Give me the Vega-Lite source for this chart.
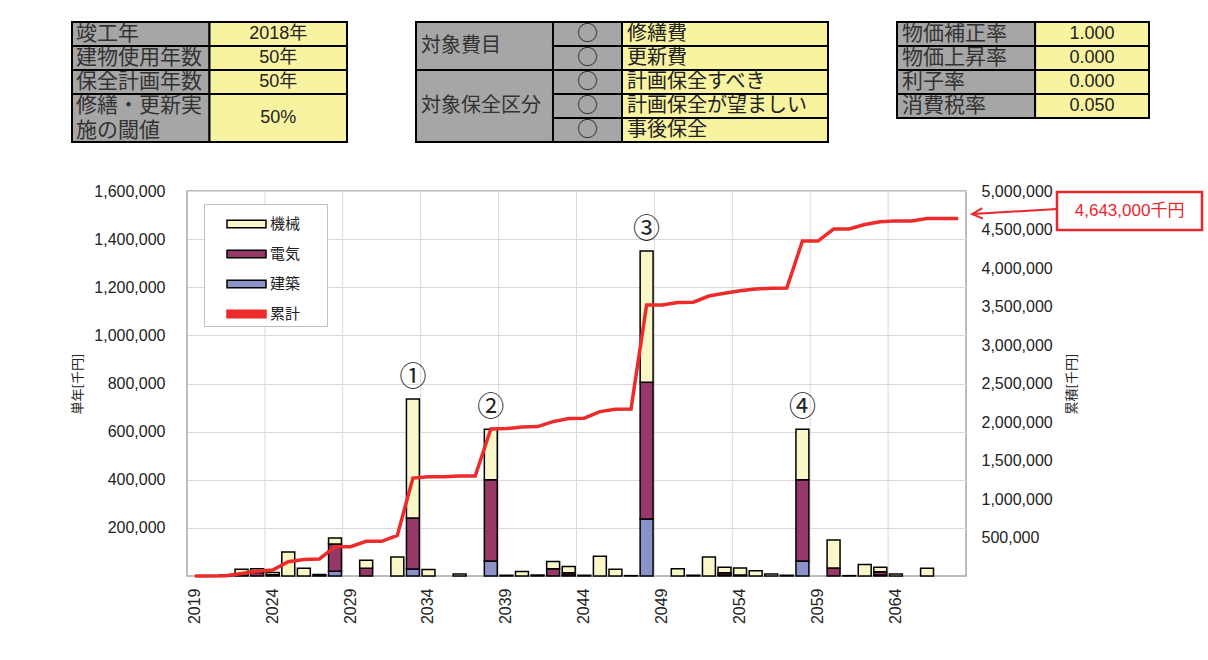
{
  "$schema": "https://vega.github.io/schema/vega-lite/v6.json",
  "padding": {"left": 71, "top": 21, "right": 0, "bottom": 0},
  "config": {"view": {"stroke": null}, "font": "Liberation Sans"},
  "resolve": {"scale": {"color": "independent", "fill": "independent", "stroke": "independent"}, "legend": {"color": "independent", "fill": "independent", "stroke": "independent"}},
  "datasets": {
    "部位別": [
      {"年": 2021, "区分": "機械", "金額": 4000},
      {"年": 2022, "区分": "電気", "金額": 3000},
      {"年": 2022, "区分": "機械", "金額": 25000},
      {"年": 2023, "区分": "電気", "金額": 15000},
      {"年": 2023, "区分": "機械", "金額": 15000},
      {"年": 2024, "区分": "電気", "金額": 5000},
      {"年": 2024, "区分": "機械", "金額": 10000},
      {"年": 2025, "区分": "機械", "金額": 100000},
      {"年": 2026, "区分": "機械", "金額": 32000},
      {"年": 2027, "区分": "機械", "金額": 6000},
      {"年": 2028, "区分": "建築", "金額": 20000},
      {"年": 2028, "区分": "電気", "金額": 113000},
      {"年": 2028, "区分": "機械", "金額": 25000},
      {"年": 2030, "区分": "電気", "金額": 32000},
      {"年": 2030, "区分": "機械", "金額": 33000},
      {"年": 2032, "区分": "機械", "金額": 79000},
      {"年": 2033, "区分": "建築", "金額": 29000},
      {"年": 2033, "区分": "電気", "金額": 212000},
      {"年": 2033, "区分": "機械", "金額": 495000},
      {"年": 2034, "区分": "機械", "金額": 27000},
      {"年": 2036, "区分": "機械", "金額": 8000},
      {"年": 2038, "区分": "建築", "金額": 62000},
      {"年": 2038, "区分": "電気", "金額": 338000},
      {"年": 2038, "区分": "機械", "金額": 210000},
      {"年": 2039, "区分": "機械", "金額": 3000},
      {"年": 2040, "区分": "機械", "金額": 19000},
      {"年": 2041, "区分": "機械", "金額": 4000},
      {"年": 2042, "区分": "電気", "金額": 30000},
      {"年": 2042, "区分": "機械", "金額": 30000},
      {"年": 2043, "区分": "建築", "金額": 4000},
      {"年": 2043, "区分": "電気", "金額": 10000},
      {"年": 2043, "区分": "機械", "金額": 26000},
      {"年": 2044, "区分": "機械", "金額": 3000},
      {"年": 2045, "区分": "機械", "金額": 82000},
      {"年": 2046, "区分": "機械", "金額": 28000},
      {"年": 2047, "区分": "機械", "金額": 1500},
      {"年": 2048, "区分": "建築", "金額": 237000},
      {"年": 2048, "区分": "電気", "金額": 568000},
      {"年": 2048, "区分": "機械", "金額": 546000},
      {"年": 2050, "区分": "機械", "金額": 30000},
      {"年": 2051, "区分": "機械", "金額": 3000},
      {"年": 2052, "区分": "機械", "金額": 79000},
      {"年": 2053, "区分": "建築", "金額": 4000},
      {"年": 2053, "区分": "電気", "金額": 9000},
      {"年": 2053, "区分": "機械", "金額": 23000},
      {"年": 2054, "区分": "電気", "金額": 4000},
      {"年": 2054, "区分": "機械", "金額": 29000},
      {"年": 2055, "区分": "機械", "金額": 22000},
      {"年": 2056, "区分": "機械", "金額": 8000},
      {"年": 2057, "区分": "機械", "金額": 3000},
      {"年": 2058, "区分": "建築", "金額": 62000},
      {"年": 2058, "区分": "電気", "金額": 338000},
      {"年": 2058, "区分": "機械", "金額": 210000},
      {"年": 2060, "区分": "電気", "金額": 33000},
      {"年": 2060, "区分": "機械", "金額": 117000},
      {"年": 2061, "区分": "機械", "金額": 1500},
      {"年": 2062, "区分": "機械", "金額": 48000},
      {"年": 2063, "区分": "建築", "金額": 4000},
      {"年": 2063, "区分": "電気", "金額": 14000},
      {"年": 2063, "区分": "機械", "金額": 18000},
      {"年": 2064, "区分": "機械", "金額": 8000},
      {"年": 2066, "区分": "機械", "金額": 32000}
    ],
    "累計": [
      {"年": 2019, "累計": 0}, {"年": 2020, "累計": 0}, {"年": 2021, "累計": 4000},
      {"年": 2022, "累計": 32000}, {"年": 2023, "累計": 62000}, {"年": 2024, "累計": 78000},
      {"年": 2025, "累計": 186000}, {"年": 2026, "累計": 213000}, {"年": 2027, "累計": 221000},
      {"年": 2028, "累計": 380000}, {"年": 2029, "累計": 380000}, {"年": 2030, "累計": 450000},
      {"年": 2031, "累計": 450000}, {"年": 2032, "累計": 528000}, {"年": 2033, "累計": 1272000},
      {"年": 2034, "累計": 1290000}, {"年": 2035, "累計": 1290000}, {"年": 2036, "累計": 1298000},
      {"年": 2037, "累計": 1298000}, {"年": 2038, "累計": 1910000}, {"年": 2039, "累計": 1915000},
      {"年": 2040, "累計": 1935000}, {"年": 2041, "累計": 1940000}, {"年": 2042, "累計": 2005000},
      {"年": 2043, "累計": 2045000}, {"年": 2044, "累計": 2050000}, {"年": 2045, "累計": 2135000},
      {"年": 2046, "累計": 2165000}, {"年": 2047, "累計": 2168000}, {"年": 2048, "累計": 3520000},
      {"年": 2049, "累計": 3520000}, {"年": 2050, "累計": 3552000}, {"年": 2051, "累計": 3556000},
      {"年": 2052, "累計": 3636000}, {"年": 2053, "累計": 3672000}, {"年": 2054, "累計": 3705000},
      {"年": 2055, "累計": 3728000}, {"年": 2056, "累計": 3736000}, {"年": 2057, "累計": 3740000},
      {"年": 2058, "累計": 4350000}, {"年": 2059, "累計": 4350000}, {"年": 2060, "累計": 4505000},
      {"年": 2061, "累計": 4507000}, {"年": 2062, "累計": 4565000}, {"年": 2063, "累計": 4600000},
      {"年": 2064, "累計": 4612000}, {"年": 2065, "累計": 4612000}, {"年": 2066, "累計": 4643000},
      {"年": 2067, "累計": 4643000}, {"年": 2068, "累計": 4643000}
    ],
    "番号": [
      {"年": 2033, "合計": 736000, "番号": "①"},
      {"年": 2038, "合計": 610000, "番号": "②"},
      {"年": 2048, "合計": 1351000, "番号": "③"},
      {"年": 2058, "合計": 610000, "番号": "④"}
    ]
  },
  "vconcat": [
    {
      "hconcat": [
        {
          "width": 160, "height": 120,
          "data": {"values": [
            {"c0": 0, "c1": 0.5, "r0": 0, "r1": 1, "種別": "項目", "文字": "竣工年"},
            {"c0": 0.5, "c1": 1, "r0": 0, "r1": 1, "種別": "値", "文字": "2018年"},
            {"c0": 0, "c1": 0.5, "r0": 1, "r1": 2, "種別": "項目", "文字": "建物使用年数"},
            {"c0": 0.5, "c1": 1, "r0": 1, "r1": 2, "種別": "値", "文字": "50年"},
            {"c0": 0, "c1": 0.5, "r0": 2, "r1": 3, "種別": "項目", "文字": "保全計画年数"},
            {"c0": 0.5, "c1": 1, "r0": 2, "r1": 3, "種別": "値", "文字": "50年"},
            {"c0": 0, "c1": 0.5, "r0": 3, "r1": 5, "種別": "項目", "文字": "修繕・更新実\n施の閾値"},
            {"c0": 0.5, "c1": 1, "r0": 3, "r1": 5, "種別": "値", "文字": "50%"}
          ]},
          "layer": [
            {
              "mark": {"type": "rect", "stroke": "#000000", "strokeWidth": 2},
              "encoding": {
                "x": {"field": "c0", "type": "quantitative", "scale": {"domain": [0.41818, 1], "nice": false, "zero": false}, "axis": null},
                "x2": {"field": "c1"},
                "y": {"field": "r0", "type": "quantitative", "scale": {"domain": [0, 5], "reverse": true, "nice": false}, "axis": null},
                "y2": {"field": "r1"},
                "fill": {"field": "種別", "type": "nominal", "scale": {"domain": ["項目", "値"], "range": ["#A6A6A6", "#F7F3A0"]}, "legend": null}
              }
            },
            {
              "transform": [{"filter": "datum['種別'] === '項目' && datum.r1 - datum.r0 === 1"}],
              "mark": {"type": "text", "align": "left", "baseline": "middle", "dx": 4, "dy": 12, "font": "Noto Sans CJK JP", "fontSize": 21, "color": "#333333"},
              "encoding": {
                "x": {"field": "c0", "type": "quantitative", "axis": null},
                "y": {"field": "r0", "type": "quantitative", "axis": null},
                "text": {"field": "文字"}
              }
            },
            {
              "transform": [{"filter": "datum['種別'] === '項目' && datum.r1 - datum.r0 === 2"}],
              "mark": {"type": "text", "align": "left", "baseline": "middle", "dx": 4, "dy": 11.5, "font": "Noto Sans CJK JP", "fontSize": 21, "lineBreak": "\n", "lineHeight": 25, "color": "#333333"},
              "encoding": {
                "x": {"field": "c0", "type": "quantitative", "axis": null},
                "y": {"field": "r0", "type": "quantitative", "axis": null},
                "text": {"field": "文字"}
              }
            },
            {
              "transform": [{"filter": "datum['種別'] === '値' && datum.r1 - datum.r0 === 1"}],
              "mark": {"type": "text", "align": "center", "baseline": "middle", "dx": 68.75, "dy": 12, "font": "Liberation Sans, Noto Sans CJK JP", "fontSize": 18, "color": "#222222"},
              "encoding": {
                "x": {"field": "c0", "type": "quantitative", "axis": null},
                "y": {"field": "r0", "type": "quantitative", "axis": null},
                "text": {"field": "文字"}
              }
            },
            {
              "transform": [{"filter": "datum['種別'] === '値' && datum.r1 - datum.r0 === 2"}],
              "mark": {"type": "text", "align": "center", "baseline": "middle", "dx": 68.75, "dy": 24, "font": "Liberation Sans, Noto Sans CJK JP", "fontSize": 18, "color": "#222222"},
              "encoding": {
                "x": {"field": "c0", "type": "quantitative", "axis": null},
                "y": {"field": "r0", "type": "quantitative", "axis": null},
                "text": {"field": "文字"}
              }
            }
          ]
        },
        {
          "width": 412, "height": 120,
          "data": {"values": [
            {"c0": 0, "c1": 0.3325, "r0": 0, "r1": 2, "種別": "項目", "文字": "対象費目"},
            {"c0": 0, "c1": 0.3325, "r0": 2, "r1": 5, "種別": "項目", "文字": "対象保全区分"},
            {"c0": 0.3325, "c1": 0.5, "r0": 0, "r1": 1, "種別": "印", "文字": "○"},
            {"c0": 0.3325, "c1": 0.5, "r0": 1, "r1": 2, "種別": "印", "文字": "○"},
            {"c0": 0.3325, "c1": 0.5, "r0": 2, "r1": 3, "種別": "印", "文字": "○"},
            {"c0": 0.3325, "c1": 0.5, "r0": 3, "r1": 4, "種別": "印", "文字": "○"},
            {"c0": 0.3325, "c1": 0.5, "r0": 4, "r1": 5, "種別": "印", "文字": "○"},
            {"c0": 0.5, "c1": 1, "r0": 0, "r1": 1, "種別": "内容", "文字": "修繕費"},
            {"c0": 0.5, "c1": 1, "r0": 1, "r1": 2, "種別": "内容", "文字": "更新費"},
            {"c0": 0.5, "c1": 1, "r0": 2, "r1": 3, "種別": "内容", "文字": "計画保全すべき"},
            {"c0": 0.5, "c1": 1, "r0": 3, "r1": 4, "種別": "内容", "文字": "計画保全が望ましい"},
            {"c0": 0.5, "c1": 1, "r0": 4, "r1": 5, "種別": "内容", "文字": "事後保全"}
          ]},
          "layer": [
            {
              "mark": {"type": "rect", "stroke": "#000000", "strokeWidth": 2},
              "encoding": {
                "x": {"field": "c0", "type": "quantitative", "scale": {"domain": [0, 1], "nice": false, "zero": false}, "axis": null},
                "x2": {"field": "c1"},
                "y": {"field": "r0", "type": "quantitative", "scale": {"domain": [0, 5], "reverse": true, "nice": false}, "axis": null},
                "y2": {"field": "r1"},
                "fill": {"field": "種別", "type": "nominal", "scale": {"domain": ["項目", "印", "内容"], "range": ["#A6A6A6", "#F7F3A0", "#F7F3A0"]}, "legend": null}
              }
            },
            {
              "transform": [{"filter": "datum['種別'] === '項目' && datum.r1 - datum.r0 === 2"}],
              "mark": {"type": "text", "align": "left", "baseline": "middle", "dx": 5, "dy": 24, "font": "Noto Sans CJK JP", "fontSize": 20, "color": "#333333"},
              "encoding": {
                "x": {"field": "c0", "type": "quantitative", "axis": null},
                "y": {"field": "r0", "type": "quantitative", "axis": null},
                "text": {"field": "文字"}
              }
            },
            {
              "transform": [{"filter": "datum['種別'] === '項目' && datum.r1 - datum.r0 === 3"}],
              "mark": {"type": "text", "align": "left", "baseline": "middle", "dx": 5, "dy": 36, "font": "Noto Sans CJK JP", "fontSize": 20, "color": "#333333"},
              "encoding": {
                "x": {"field": "c0", "type": "quantitative", "axis": null},
                "y": {"field": "r0", "type": "quantitative", "axis": null},
                "text": {"field": "文字"}
              }
            },
            {
              "transform": [{"filter": {"field": "種別", "equal": "印"}}],
              "mark": {"type": "text", "align": "center", "baseline": "middle", "dx": 34.5, "dy": 12, "font": "Noto Sans CJK JP", "fontSize": 21, "color": "#222222"},
              "encoding": {
                "x": {"field": "c0", "type": "quantitative", "axis": null},
                "y": {"field": "r0", "type": "quantitative", "axis": null},
                "text": {"field": "文字"}
              }
            },
            {
              "transform": [{"filter": {"field": "種別", "equal": "内容"}}],
              "mark": {"type": "text", "align": "left", "baseline": "middle", "dx": 5, "dy": 12, "font": "Noto Sans CJK JP", "fontSize": 20, "color": "#222222"},
              "encoding": {
                "x": {"field": "c0", "type": "quantitative", "axis": null},
                "y": {"field": "r0", "type": "quantitative", "axis": null},
                "text": {"field": "文字"}
              }
            }
          ]
        },
        {
          "width": 252, "height": 96,
          "data": {"values": [
            {"c0": 0, "c1": 0.548, "r0": 0, "r1": 1, "種別": "項目", "文字": "物価補正率"},
            {"c0": 0.548, "c1": 1, "r0": 0, "r1": 1, "種別": "値", "文字": "1.000"},
            {"c0": 0, "c1": 0.548, "r0": 1, "r1": 2, "種別": "項目", "文字": "物価上昇率"},
            {"c0": 0.548, "c1": 1, "r0": 1, "r1": 2, "種別": "値", "文字": "0.000"},
            {"c0": 0, "c1": 0.548, "r0": 2, "r1": 3, "種別": "項目", "文字": "利子率"},
            {"c0": 0.548, "c1": 1, "r0": 2, "r1": 3, "種別": "値", "文字": "0.000"},
            {"c0": 0, "c1": 0.548, "r0": 3, "r1": 4, "種別": "項目", "文字": "消費税率"},
            {"c0": 0.548, "c1": 1, "r0": 3, "r1": 4, "種別": "値", "文字": "0.050"}
          ]},
          "layer": [
            {
              "mark": {"type": "rect", "stroke": "#000000", "strokeWidth": 2},
              "encoding": {
                "x": {"field": "c0", "type": "quantitative", "scale": {"domain": [0, 1], "nice": false, "zero": false}, "axis": null},
                "x2": {"field": "c1"},
                "y": {"field": "r0", "type": "quantitative", "scale": {"domain": [0, 4], "reverse": true, "nice": false}, "axis": null},
                "y2": {"field": "r1"},
                "fill": {"field": "種別", "type": "nominal", "scale": {"domain": ["項目", "値"], "range": ["#A6A6A6", "#F7F3A0"]}, "legend": null}
              }
            },
            {
              "transform": [{"filter": {"field": "種別", "equal": "項目"}}],
              "mark": {"type": "text", "align": "left", "baseline": "middle", "dx": 5, "dy": 12, "font": "Noto Sans CJK JP", "fontSize": 21, "color": "#333333"},
              "encoding": {
                "x": {"field": "c0", "type": "quantitative", "axis": null},
                "y": {"field": "r0", "type": "quantitative", "axis": null},
                "text": {"field": "文字"}
              }
            },
            {
              "transform": [{"filter": {"field": "種別", "equal": "値"}}],
              "mark": {"type": "text", "align": "center", "baseline": "middle", "dx": 57, "dy": 12, "font": "Liberation Sans", "fontSize": 18, "color": "#222222"},
              "encoding": {
                "x": {"field": "c0", "type": "quantitative", "axis": null},
                "y": {"field": "r0", "type": "quantitative", "axis": null},
                "text": {"field": "文字"}
              }
            }
          ]
        }
      ],
      "spacing": 67
    },
    {
      "resolve": {"scale": {"color": "independent", "stroke": "independent"}, "legend": {"color": "independent", "stroke": "independent"}},
      "hconcat": [
        {
          "width": 779,
          "height": 385,
          "view": {"stroke": "#a6a6a6", "strokeWidth": 1.5},
          "layer": [
            {
              "layer": [
                {
                  "data": {"name": "累計"},
                  "transform": [{"filter": {"field": "年", "oneOf": [2024, 2029, 2034, 2039, 2044, 2049, 2054, 2059, 2064]}}],
                  "mark": {"type": "rule", "color": "#d9d9d9", "strokeWidth": 1},
                  "encoding": {
                    "x": {"field": "年", "type": "ordinal", "bandPosition": 0, "title": null}
                  }
                },
                {
                  "layer": [
                    {
                      "data": {"name": "部位別"},
                      "transform": [{"stack": "金額", "groupby": ["年"], "as": ["下端", "上端"]}],
                      "mark": {"type": "bar", "strokeWidth": 1.5, "width": {"band": 0.83}},
                      "encoding": {
                        "x": {
                          "field": "年", "type": "ordinal", "title": null,
                          "scale": {"paddingInner": 0, "paddingOuter": 0},
                          "axis": {
                            "values": [2019, 2024, 2029, 2034, 2039, 2044, 2049, 2054, 2059, 2064],
                            "labelAngle": -90, "labelFont": "Liberation Sans", "labelFontSize": 16,
                            "labelColor": "#222222", "labelPadding": 12, "ticks": false, "domain": false, "grid": false
                          }
                        },
                        "y": {
                          "field": "上端", "type": "quantitative", "title": "単年[千円]",
                          "scale": {"domain": [0, 1600000], "nice": false},
                          "axis": {
                            "values": [200000, 400000, 600000, 800000, 1000000, 1200000, 1400000, 1600000],
                            "format": ",d", "grid": true, "gridColor": "#d9d9d9", "domain": false, "ticks": false,
                            "labelPadding": 22, "labelFont": "Liberation Sans", "labelFontSize": 16, "labelColor": "#222222",
                            "titleFont": "Noto Sans CJK JP", "titleFontSize": 13, "titleFontWeight": "normal",
                            "titleColor": "#222222", "titlePadding": 9
                          }
                        },
                        "y2": {"field": "下端"},
                        "color": {
                          "field": "区分", "type": "nominal",
                          "scale": {"domain": ["機械", "電気", "建築", "累計"], "range": ["#FAF8C8", "#963868", "#8A92C8", "#EE2B2B"]},
                          "legend": {
                            "title": null, "orient": "none", "legendX": 17, "legendY": 13,
                            "padding": 4, "fillColor": "#ffffff", "strokeColor": "#bfbfbf",
                            "symbolType": "M0.2,-0.25H2.8V0.25H0.2Z", "symbolSize": 900, "symbolStrokeWidth": 1.5, "rowPadding": 6,
                            "labelFont": "Noto Sans CJK JP", "labelFontSize": 15, "labelColor": "#222222",
                            "labelOffset": 30, "labelExpr": "datum.label + '\u2800\u2800'"
                          }
                        },
                        "stroke": {
                          "field": "区分", "type": "nominal",
                          "scale": {"domain": ["機械", "電気", "建築", "累計"], "range": ["#000000", "#000000", "#000000", "#EE2B2B"]},
                          "legend": {
                            "title": null, "orient": "none", "legendX": 17, "legendY": 13,
                            "padding": 4, "fillColor": "#ffffff", "strokeColor": "#bfbfbf",
                            "symbolType": "M0.2,-0.25H2.8V0.25H0.2Z", "symbolSize": 900, "symbolStrokeWidth": 1.5, "rowPadding": 6,
                            "labelFont": "Noto Sans CJK JP", "labelFontSize": 15, "labelColor": "#222222",
                            "labelOffset": 30, "labelExpr": "datum.label + '\u2800\u2800'"
                          }
                        }
                      }
                    },
                    {
                      "data": {"name": "番号"},
                      "mark": {"type": "text", "font": "Noto Sans CJK JP", "fontSize": 27, "color": "#222222", "baseline": "middle", "dy": -21},
                      "encoding": {
                        "x": {"field": "年", "type": "ordinal", "title": null},
                        "y": {"field": "合計", "type": "quantitative", "title": "単年[千円]"},
                        "text": {"field": "番号"}
                      }
                    }
                  ]
                },
                {
                  "data": {"name": "累計"},
                  "mark": {"type": "line", "color": "#EE2B2B", "strokeWidth": 3.5},
                  "encoding": {
                    "x": {"field": "年", "type": "ordinal", "title": null},
                    "y": {
                      "field": "累計", "type": "quantitative", "title": "累積[千円]",
                      "scale": {"domain": [0, 5000000], "nice": false},
                      "axis": {
                        "orient": "right",
                        "values": [500000, 1000000, 1500000, 2000000, 2500000, 3000000, 3500000, 4000000, 4500000, 5000000],
                        "format": ",d", "grid": false, "domain": false, "ticks": false,
                        "labelPadding": 15, "labelFont": "Liberation Sans", "labelFontSize": 16, "labelColor": "#222222",
                        "titleFont": "Noto Sans CJK JP", "titleFontSize": 13, "titleFontWeight": "normal",
                        "titleColor": "#222222", "titlePadding": 13, "titleAngle": 270, "titleBaseline": "top"
                      }
                    }
                  }
                }
              ],
              "resolve": {"scale": {"y": "independent"}}
            },
            {
              "data": {"values": [{"累計": 4643000, "表示": "4,643,000千円"}]},
              "layer": [
                {
                  "mark": {"type": "rule", "color": "#E8262B", "strokeWidth": 2},
                  "encoding": {
                    "x": {"datum": 2068.9, "type": "quantitative", "scale": {"domain": [2018.5, 2068.5], "nice": false, "zero": false}, "axis": null},
                    "x2": {"datum": 2074.34},
                    "y": {"datum": 4700000, "type": "quantitative", "scale": {"domain": [0, 5000000], "nice": false}, "axis": null},
                    "y2": {"datum": 4766000}
                  }
                },
                {
                  "mark": {"type": "point", "shape": "M1.3,-0.65L0,0L1.3,0.65", "filled": false, "size": 256, "strokeWidth": 2, "color": "#E8262B", "angle": -4, "opacity": 1},
                  "encoding": {
                    "x": {"datum": 2068.9, "type": "quantitative", "scale": {"domain": [2018.5, 2068.5], "nice": false, "zero": false}, "axis": null},
                    "y": {"datum": 4700000, "type": "quantitative", "scale": {"domain": [0, 5000000], "nice": false}, "axis": null}
                  }
                },
                {
                  "mark": {"type": "rect", "fill": "#ffffff", "stroke": "#E8262B", "strokeWidth": 2.5},
                  "encoding": {
                    "x": {"datum": 2074.34, "type": "quantitative", "scale": {"domain": [2018.5, 2068.5], "nice": false, "zero": false}, "axis": null},
                    "x2": {"datum": 2083.65},
                    "y": {"datum": 4987000, "type": "quantitative", "scale": {"domain": [0, 5000000], "nice": false}, "axis": null},
                    "y2": {"datum": 4494000}
                  }
                },
                {
                  "mark": {"type": "text", "font": "Liberation Sans, Noto Sans CJK JP", "fontSize": 17, "color": "#E8262B"},
                  "encoding": {
                    "x": {"datum": 2079, "type": "quantitative", "scale": {"domain": [2018.5, 2068.5], "nice": false, "zero": false}, "axis": null},
                    "y": {"datum": 4740000, "type": "quantitative", "scale": {"domain": [0, 5000000], "nice": false}, "axis": null},
                    "text": {"field": "表示"}
                  }
                }
              ]
            }
          ],
          "resolve": {"scale": {"x": "independent", "y": "independent"}}
        }
      ]
    }
  ],
  "spacing": 39
}
